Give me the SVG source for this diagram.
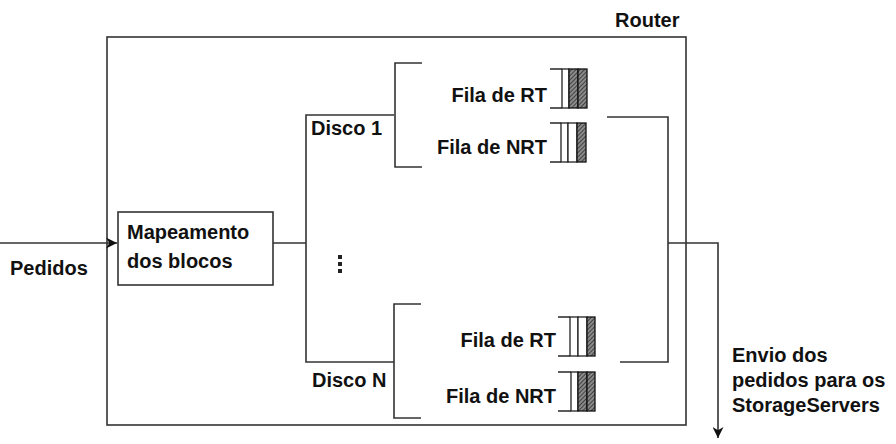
<svg xmlns="http://www.w3.org/2000/svg" width="896" height="444" viewBox="0 0 896 444">
<defs>
<pattern id="hatch" width="3" height="3" patternUnits="userSpaceOnUse" patternTransform="rotate(45)">
<rect width="3" height="3" fill="#8a8a8a"/>
<line x1="0" y1="0" x2="0" y2="3" stroke="#222" stroke-width="1.4"/>
</pattern>
<marker id="arr" viewBox="0 0 10 10" refX="10" refY="5" markerWidth="11" markerHeight="11" orient="auto" markerUnits="userSpaceOnUse">
<path d="M0,0 L10,5 L0,10 L3,5 z" fill="#111"/>
</marker>
</defs>
<style>
.ln{fill:none;stroke:#333;stroke-width:1.6}
.box{fill:#fff;stroke:#333;stroke-width:1.6}
.t{font-family:"Liberation Sans",Arial,sans-serif;font-weight:bold;font-size:20px;fill:#111}
.r{text-anchor:end}
.w{fill:#fff;stroke:#222;stroke-width:1.3}
.d{fill:url(#hatch);stroke:#111;stroke-width:1.3}
</style>
<rect width="896" height="444" fill="#fff"/>

<g id="router">
<rect class="box" x="107" y="37" width="579" height="388" fill="none"/>
<text class="t" x="615" y="27">Router</text>
</g>

<g id="connectors">
<line class="ln" x1="0" y1="243" x2="117" y2="243" marker-end="url(#arr)"/>
<line class="ln" x1="273" y1="243" x2="306" y2="243"/>
<polyline class="ln" points="394,115 306,115 306,362 394,362"/>
<polyline class="ln" points="607,117 668,117 668,362 620,362"/>
<polyline class="ln" points="668,243 718,243 718,438" marker-end="url(#arr)"/>
</g>

<g id="mapeamento">
<rect class="box" x="118" y="212" width="155" height="73"/>
<text class="t" x="127" y="239" font-size="21">Mapeamento</text>
<text class="t" x="127" y="268" font-size="21">dos blocos</text>
</g>

<g id="pedidos">
<text class="t" x="10" y="275">Pedidos</text>
</g>

<g id="dots">
<rect x="338" y="255" width="4" height="4" fill="#222"/>
<rect x="338" y="262" width="4" height="4" fill="#222"/>
<rect x="338" y="269" width="4" height="4" fill="#222"/>
</g>

<g id="disco1">
<text class="t" x="311" y="135" font-size="21">Disco 1</text>
<polyline class="ln" points="422,63 395,63 395,167 422,167"/>
</g>

<g id="discoN">
<text class="t" x="312" y="387" font-size="21">Disco N</text>
<polyline class="ln" points="421,304 394,304 394,418 421,418"/>
</g>

<g id="fila-rt-1">
<text class="t r" x="547" y="102" font-size="21">Fila de RT</text>
<line class="ln" x1="550" y1="69" x2="562" y2="69"/>
<line class="ln" x1="550" y1="108" x2="562" y2="108"/>
<rect class="w" x="562" y="69" width="7" height="39"/>
<rect class="d" x="569" y="69" width="9" height="39"/>
<rect class="d" x="578" y="69" width="9" height="39"/>
</g>

<g id="fila-nrt-1">
<text class="t r" x="547" y="154" font-size="21">Fila de NRT</text>
<line class="ln" x1="550" y1="123" x2="561" y2="123"/>
<line class="ln" x1="550" y1="162" x2="561" y2="162"/>
<rect class="w" x="561" y="123" width="7" height="39"/>
<rect class="w" x="568" y="123" width="9" height="39"/>
<rect class="d" x="577" y="123" width="9" height="39"/>
</g>

<g id="fila-rt-n">
<text class="t r" x="556" y="347" font-size="21">Fila de RT</text>
<line class="ln" x1="558" y1="317" x2="570" y2="317"/>
<line class="ln" x1="558" y1="356" x2="570" y2="356"/>
<rect class="w" x="570" y="317" width="8" height="39"/>
<rect class="w" x="578" y="317" width="9" height="39"/>
<rect class="d" x="587" y="317" width="8" height="39"/>
</g>

<g id="fila-nrt-n">
<text class="t r" x="556" y="403" font-size="21">Fila de NRT</text>
<line class="ln" x1="558" y1="372" x2="571" y2="372"/>
<line class="ln" x1="558" y1="411" x2="571" y2="411"/>
<rect class="w" x="571" y="372" width="7" height="39"/>
<rect class="d" x="578" y="372" width="9" height="39"/>
<rect class="d" x="587" y="372" width="8" height="39"/>
</g>

<g id="envio">
<text class="t" x="732" y="362">Envio dos</text>
<text class="t" x="732" y="387">pedidos para os</text>
<text class="t" x="732" y="412">StorageServers</text>
</g>
</svg>
